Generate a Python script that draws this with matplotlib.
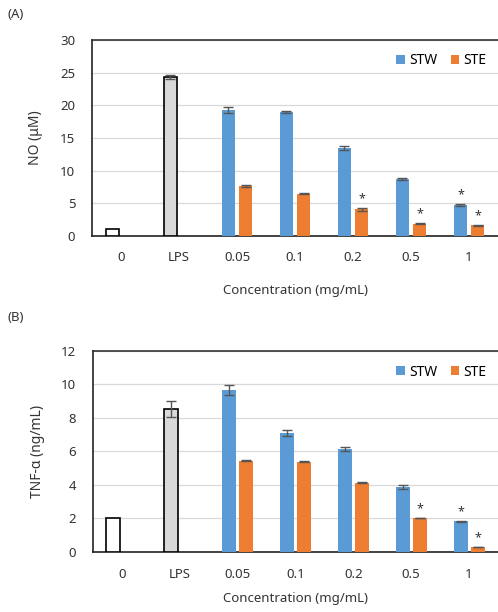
import numpy as np
import matplotlib
matplotlib.use('Agg')
import matplotlib.pyplot as plt

plt.rcParams['font.family'] = ['Noto Sans', 'DejaVu Sans']

# ---------------------------------- data ----------------------------------
categories = ['0', 'LPS', '0.05', '0.1', '0.2', '0.5', '1']

# (A) NO
no_ctrl = [1.1, 24.3]
no_ctrl_err = [0.0, 0.3]
no_stw = [19.3, 19.0, 13.4, 8.7, 4.8]
no_stw_err = [0.5, 0.1, 0.3, 0.2, 0.15]
no_ste = [7.7, 6.5, 4.1, 1.9, 1.65]
no_ste_err = [0.15, 0.1, 0.2, 0.05, 0.05]
no_stw_star = [False, False, False, False, True]
no_ste_star = [False, False, True, True, True]

# (B) TNF-a
tnf_ctrl = [2.0, 8.55]
tnf_ctrl_err = [0.0, 0.47]
tnf_stw = [9.65, 7.1, 6.15, 3.85, 1.82]
tnf_stw_err = [0.3, 0.17, 0.13, 0.13, 0.03]
tnf_ste = [5.45, 5.38, 4.12, 2.02, 0.28]
tnf_ste_err = [0.02, 0.02, 0.02, 0.02, 0.02]
tnf_stw_star = [False, False, False, False, True]
tnf_ste_star = [False, False, False, True, True]

blue = '#5B9BD5'
orange = '#ED7D31'
w = 0.24
off = 0.147


def draw_panel(ax, ctrl, ctrl_err, stw, stw_err, ste, ste_err, stw_star, ste_star,
               ymax, ystep, ylabel, xpad, xlabelpad):
    x = np.arange(len(categories))
    ekw = dict(ecolor='#555555', elinewidth=1.0, capsize=3.5, capthick=1.0)
    ax.bar(x[0] - off, ctrl[0], w, color='white', edgecolor='black', linewidth=1.2,
           yerr=ctrl_err[0] if ctrl_err[0] > 0 else None, error_kw=ekw, zorder=3)
    ax.bar(x[1] - off, ctrl[1], w, color='#D9D9D9', edgecolor='black', linewidth=1.2,
           yerr=ctrl_err[1], error_kw=ekw, zorder=3)
    xs = x[2:]
    ax.bar(xs - off, stw, w, color=blue, yerr=stw_err, error_kw=ekw, label='STW', zorder=3)
    ax.bar(xs + off, ste, w, color=orange, yerr=ste_err, error_kw=ekw, label='STE', zorder=3)

    # significance marks
    for i in range(len(xs)):
        if stw_star[i]:
            ax.annotate('*', (xs[i] - off, stw[i] + stw_err[i]), xytext=(0, 2),
                        textcoords='offset points', ha='center', va='bottom', fontsize=9, color='#333333')
        if ste_star[i]:
            ax.annotate('*', (xs[i] + off, ste[i] + ste_err[i]), xytext=(0, 2),
                        textcoords='offset points', ha='center', va='bottom', fontsize=9, color='#333333')

    ax.set_xlim(-0.5, len(categories) - 0.5)
    ax.set_ylim(0, ymax)
    ax.set_yticks(np.arange(0, ymax + ystep / 2, ystep))
    ax.set_xticks(x)
    ax.set_xticklabels(categories)
    ax.tick_params(axis='both', length=0, labelsize=9.5, colors='#333333')
    ax.tick_params(axis='x', pad=xpad)
    ax.tick_params(axis='y', pad=12)
    ax.grid(axis='y', color='#D9D9D9', linewidth=0.9, zorder=0)
    ax.set_axisbelow(True)
    ax.spines['right'].set_visible(False)
    ax.spines['top'].set_color('#333333')
    ax.spines['left'].set_color('#222222')
    ax.spines['bottom'].set_color('#222222')
    for s in ['top', 'left', 'bottom']:
        ax.spines[s].set_linewidth(1.2)
    ax.set_ylabel(ylabel, fontsize=10, color='#333333', labelpad=12)
    ax.set_xlabel('Concentration (mg/mL)', fontsize=9.5, color='#333333', labelpad=xlabelpad)
    ax.legend(loc='upper right', bbox_to_anchor=(0.985, 0.96), ncol=2, frameon=False,
              fontsize=10, handlelength=0.6, handleheight=0.6, handletextpad=0.3,
              columnspacing=1.0, borderaxespad=0.0)


fig = plt.figure(figsize=(4.98, 6.12), dpi=100)
axA = fig.add_axes([92 / 498, 1 - 236 / 612, 406 / 498, 196 / 612])
axB = fig.add_axes([93 / 498, 1 - 551.7 / 612, 405 / 498, 200.7 / 612])

draw_panel(axA, no_ctrl, no_ctrl_err, no_stw, no_stw_err, no_ste, no_ste_err,
           no_stw_star, no_ste_star, 30, 5, 'NO (μM)', 11, 14)
draw_panel(axB, tnf_ctrl, tnf_ctrl_err, tnf_stw, tnf_stw_err, tnf_ste, tnf_ste_err,
           tnf_stw_star, tnf_ste_star, 12, 2, 'TNF-α (ng/mL)', 12, 8)

fig.text(8 / 498, 1 - 14 / 612, '(A)', fontsize=9.5, color='#333333', va='center', ha='left')
fig.text(8 / 498, 1 - 317 / 612, '(B)', fontsize=9.5, color='#333333', va='center', ha='left')

fig.savefig('out.png', dpi=100)
